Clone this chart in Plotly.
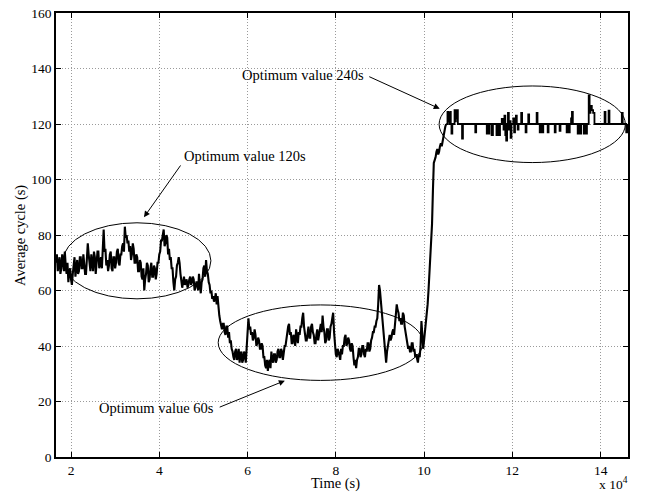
import plotly.graph_objects as go

# ---------------- data ----------------
# noisy part: uniform sampling every 200 s starting at 16600 s
T_START = 16600
T_STEP = 200
cycle_low = [
    70, 73, 67, 71, 72, 66, 68, 73, 71, 67, 74, 69, 66, 70, 63, 67, 68, 64, 62, 66,
    69, 72, 65, 70, 71, 66, 67, 72, 72, 68, 68, 73, 70, 66, 66, 71, 77, 73, 70, 67,
    73, 69, 67, 74, 72, 66, 69, 74, 74, 68, 70, 72, 68, 75, 82, 74, 75, 69, 71, 67,
    69, 73, 74, 68, 67, 72, 72, 68, 70, 74, 75, 70, 69, 73, 73, 76, 77, 74, 83, 79,
    80, 77, 78, 74, 76, 71, 73, 77, 75, 70, 70, 73, 72, 67, 67, 71, 70, 65, 64, 68,
    60, 64, 66, 70, 69, 63, 64, 68, 70, 65, 65, 69, 68, 64, 66, 70, 70, 73, 74, 78,
    78, 80, 82, 76, 77, 80, 79, 73, 75, 71, 72, 68, 68, 63, 60, 64, 65, 69, 70, 72,
    70, 66, 64, 61, 63, 65, 62, 63, 64, 61, 62, 64, 65, 62, 63, 65, 64, 60, 61, 63,
    63, 60, 66, 62, 59, 63, 64, 68, 69, 65, 71, 67, 66, 63, 62, 59, 60, 57, 58, 56,
    57, 59, 55, 58, 53, 51, 49, 47, 46, 48, 48, 45, 44, 47, 47, 43, 45, 41, 42, 39,
    38, 36, 35, 38, 39, 35, 36, 39, 34, 37, 38, 34, 35, 38, 37, 34, 41, 44, 50, 46,
    47, 44, 45, 42, 43, 46, 44, 40, 41, 43, 42, 39, 39, 41, 40, 36, 36, 33, 32, 35,
    31, 34, 35, 32, 38, 35, 34, 37, 37, 34, 35, 38, 39, 36, 36, 39, 38, 35, 37, 40,
    40, 43, 44, 47, 48, 44, 45, 41, 41, 44, 43, 40, 46, 43, 41, 45, 44, 47, 47, 50,
    52, 47, 45, 42, 42, 46, 47, 43, 43, 47, 48, 45, 44, 41, 41, 44, 46, 42, 44, 47,
    48, 45, 51, 47, 45, 41, 42, 46, 46, 42, 43, 47, 48, 50, 52, 45, 39, 37, 36, 39,
    38, 36, 35, 39, 37, 40, 40, 43, 44, 40, 41, 43, 42, 39, 38, 41, 40, 36, 33, 35,
    32, 35, 36, 39, 39, 36, 37, 40, 40, 37, 36, 39, 38, 41, 41, 38, 39, 42, 43, 45,
    45, 47, 47, 49, 50, 55, 62, 60, 56, 52, 50, 45, 42, 37, 34, 38, 40, 43, 44, 42,
    43, 45, 46, 44, 48, 51, 55, 53, 52, 49, 50, 48, 48, 52, 51, 47, 45, 42, 41, 39,
    40, 38, 38, 41, 41, 38, 39, 36, 37, 35, 34, 37, 36, 40, 49, 44, 39, 42, 45, 48,
    51, 55, 60, 66, 72, 78, 84, 96, 106, 107, 108, 110, 111, 109, 110, 112, 113, 112, 114, 116,
    118, 119, 120,
]
time_low = [T_START + i * T_STEP for i in range(len(cycle_low))]

# step part (x 10^4 s)
time_high_e4 = [
    10.50, 10.53, 10.545, 10.56, 10.575, 10.59, 10.605, 10.62, 10.64, 10.69,
    10.705, 10.72, 10.735, 10.75, 10.765, 10.86, 10.88, 11.16, 11.18, 11.42,
    11.44, 11.46, 11.48, 11.53, 11.56, 11.64, 11.66, 11.68, 11.70, 11.72,
    11.76, 11.78, 11.80, 11.82, 11.84, 11.86, 11.88, 11.90, 11.92, 11.94,
    11.96, 11.98, 12.02, 12.04, 12.06, 12.08, 12.10, 12.12, 12.14, 12.20,
    12.22, 12.30, 12.32, 12.36, 12.38, 12.55, 12.57, 12.62, 12.64, 12.68,
    12.70, 12.80, 12.82, 12.96, 12.98, 13.07, 13.09, 13.23, 13.25, 13.28,
    13.30, 13.33, 13.35, 13.37, 13.48, 13.50, 13.54, 13.56, 13.62, 13.64,
    13.67, 13.69, 13.73, 13.75, 13.77, 13.80, 13.83, 13.86, 14.09, 14.11,
    14.18, 14.20, 14.48, 14.50, 14.58, 14.62,
]
cycle_high = [
    120, 124.4, 121, 124, 120, 124.4, 120, 116.5, 120, 125,
    121, 125, 122, 125, 120, 114.7, 120, 117, 120, 116.5,
    120, 116.5, 120, 116, 120, 116, 117, 120, 116, 120,
    121.8, 120, 118, 123, 116, 114, 120, 124, 118, 121,
    115, 120, 122, 117, 120, 123, 120, 118, 120, 124,
    120, 117, 120, 123.5, 120, 124, 120, 117, 120, 117,
    120, 117, 120, 117, 120, 117.5, 120, 117, 120, 117,
    120, 122, 124.4, 120, 116.5, 120, 116.5, 120, 116.5, 120,
    116.5, 120, 130.3, 124, 126.5, 125, 124, 120, 124.4, 120,
    124.8, 120, 124, 120, 117, 120,
]
time_high = [t * 1e4 for t in time_high_e4]

x_tick_vals = [20000, 40000, 60000, 80000, 100000, 120000, 140000]
x_tick_text = ["2", "4", "6", "8", "10", "12", "14"]

# ellipses (x0, x1, y0, y1)
ellipses = [
    (18200, 51700, 57.0, 84.4),
    (53350, 99760, 27.6, 54.8),
    (103400, 145600, 106.1, 133.7),
]
# labels: text, text x, text y, anchor, arrow tail x, tail y, tip x, tip y
labels = [
    ("Optimum value 120s", 45060, 108.5, "left", 45060, 105.6, 36530, 86.4),
    ("Optimum value 60s", 52830, 17.6, "right", 53350, 17.75, 68450, 27.5),
    ("Optimum value 240s", 86790, 137.6, "right", 87240, 137.3, 103540, 125.5),
]

FONT = "Liberation Serif, Times New Roman, serif"

fig = go.Figure()
fig.add_trace(go.Scatter(x=time_low, y=cycle_low, mode="lines",
                         line=dict(color="black", width=2.1), showlegend=False))
fig.add_trace(go.Scatter(x=time_high, y=cycle_high, mode="lines",
                         line=dict(color="black", width=1.8, shape="hv"),
                         showlegend=False))

for (x0, x1, y0, y1) in ellipses:
    fig.add_shape(type="circle", xref="x", yref="y", x0=x0, x1=x1, y0=y0, y1=y1,
                  line=dict(color="black", width=1))

for (txt, tx, ty, anc, ax, ay, hx, hy) in labels:
    fig.add_annotation(x=tx, y=ty, xref="x", yref="y", text=txt, showarrow=False,
                       xanchor=anc, yanchor="middle",
                       font=dict(family=FONT, size=14.5, color="black"))
    fig.add_annotation(x=hx, y=hy, ax=ax, ay=ay, xref="x", yref="y",
                       axref="x", ayref="y", text="", showarrow=True,
                       arrowhead=2, arrowsize=1.2, arrowwidth=1, arrowcolor="black",
                       standoff=0)

# axis titles
fig.add_annotation(x=0.4895, y=(457 - 484) / 451, xref="paper", yref="paper",
                   text="Time (s)",
                   showarrow=False, xanchor="center", yanchor="middle",
                   font=dict(family=FONT, size=14.5, color="black"))
fig.add_annotation(x=-0.063, y=0.5, xref="paper", yref="paper",
                   text="Average cycle (s)", textangle=-90, showarrow=False,
                   xanchor="center", yanchor="middle",
                   font=dict(family=FONT, size=14.5, color="black"))
fig.add_annotation(x=(613 - 56) / 572, y=(457 - 484) / 451, xref="paper", yref="paper",
                   text="x 10<sup>4</sup>", showarrow=False,
                   xanchor="center", yanchor="middle",
                   font=dict(family=FONT, size=13.5, color="black"))

axis_common = dict(showline=True, linecolor="black", linewidth=1.8, mirror="ticks",
                   ticks="inside", ticklen=5, tickwidth=1, tickcolor="black",
                   showgrid=True, gridcolor="#9a9a9a", griddash="1px,2px", gridwidth=1,
                   zeroline=False,
                   tickfont=dict(family=FONT, size=13.5, color="black"))

fig.update_xaxes(range=[16600, 146200], tickvals=x_tick_vals, ticktext=x_tick_text,
                 **axis_common)
fig.update_yaxes(range=[0, 160], dtick=20, tick0=0, **axis_common)

fig.update_layout(width=649, height=494, margin=dict(l=56, r=21, t=6, b=37),
                  plot_bgcolor="white", paper_bgcolor="white",
                  font=dict(family=FONT, size=13.5, color="black"))

fig.write_html("out.html")
